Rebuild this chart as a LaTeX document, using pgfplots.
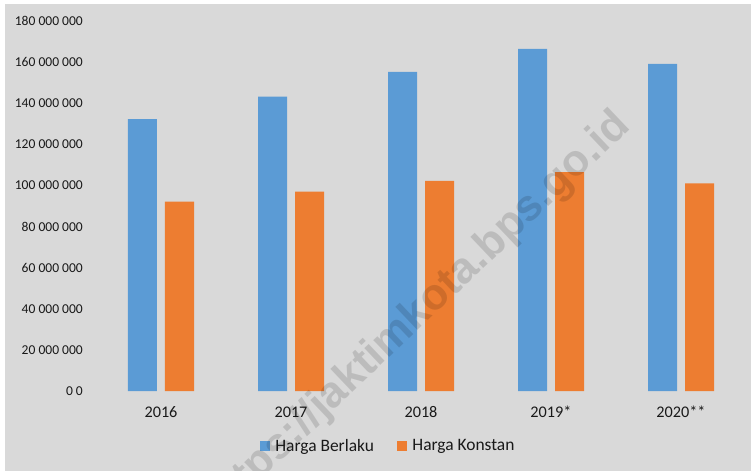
\documentclass[border=0pt]{standalone}
\usepackage{pgfplots}
\pgfplotsset{compat=1.18}
\usepackage{fontspec}
\setmainfont{Carlito}
\newfontfamily\wmfont{Liberation Sans}
\definecolor{cblue}{HTML}{5B9BD5}
\definecolor{corange}{HTML}{ED7D31}
\definecolor{cbg}{HTML}{D9D9D9}
\begin{document}
\begin{tikzpicture}
\useasboundingbox (-96bp,-80bp) rectangle (655bp,391bp);
\fill[white] (-96bp,-80bp) rectangle (655bp,391bp);
\fill[cbg] (-91bp,-80bp) rectangle (655bp,387bp);
\begin{axis}[
  at={(0,0)}, anchor=south west,
  scale only axis,
  width=650bp, height=370bp,
  ybar,
  xmin=-0.5, xmax=4.5,
  ymin=0, ymax=180000000,
  axis line style={draw=none},
  major tick length=0pt,
  xtick={0,1,2,3,4},
  xticklabels={2016,2017,2018,2019*,2020**},
  ytick={0,20000000,40000000,60000000,80000000,100000000,120000000,140000000,160000000,180000000},
  yticklabels={0 0,20 000 000,40 000 000,60 000 000,80 000 000,100 000 000,120 000 000,140 000 000,160 000 000,180 000 000},
  yticklabel style={font=\fontsize{13.6}{16}\selectfont, anchor=east, inner sep=0pt, xshift=-13bp, text=black!90},
  xticklabel style={font=\fontsize{16.3}{19}\selectfont, anchor=base, inner sep=0pt, yshift=-26.7bp, text=black!90},
  scaled y ticks=false,
  bar width=29bp,
  legend columns=2,
  legend style={draw=none, fill=none, at={(0.448,-0.1486)}, anchor=center,
    font=\fontsize{17.5}{20}\selectfont, text=black!90,
    nodes={inner sep=0pt},
    /tikz/every odd column/.append style={column sep=5.4bp},
    /tikz/every even column/.append style={column sep=23bp}},
  legend image code/.code={\fill[#1] (0bp,-5bp) rectangle (10bp,5bp);},
]
\addplot[fill=cblue, draw=none, bar shift=-18.5bp] coordinates {
  (0,132300000) (1,143200000) (2,155300000) (3,166400000) (4,159100000)};
\addlegendentry{Harga Berlaku}
\addplot[fill=corange, draw=none, bar shift=18.5bp] coordinates {
  (0,92100000) (1,97000000) (2,102200000) (3,106500000) (4,101000000)};
\addlegendentry{Harga Konstan}
\end{axis}
\begin{scope}
\clip (-96bp,-80bp) rectangle (655bp,391bp);
\node[rotate=43.5, text=black, opacity=0.13, font=\wmfont\bfseries\fontsize{44}{50}\selectfont, inner sep=0pt] at (321bp,75bp) {https://jaktimkota.bps.go.id};
\end{scope}
\end{tikzpicture}
\end{document}
